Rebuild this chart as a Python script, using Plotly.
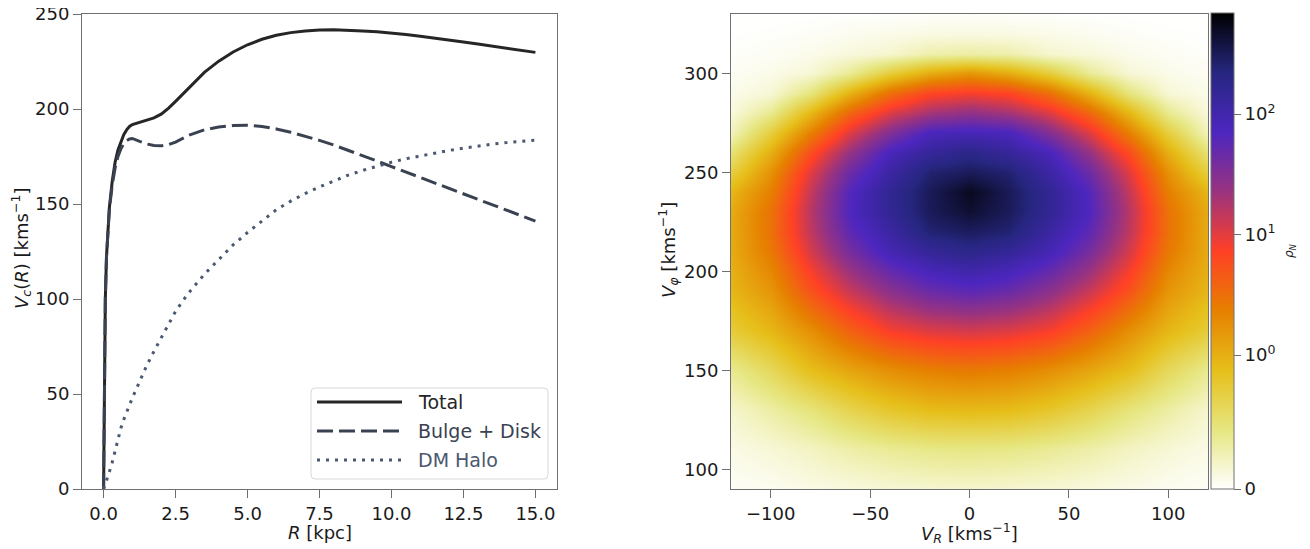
import numpy as np
import plotly.graph_objects as go

# ---------------- Left panel: rotation curve ----------------
R_kpc = [0, 0.03, 0.06, 0.1, 0.15, 0.2, 0.3, 0.4, 0.5, 0.6, 0.7, 0.8, 0.9, 1.0,
         1.25, 1.5, 1.75, 2.0, 2.25, 2.5, 2.75, 3.0,
         3.5, 4.0, 4.5, 5.0, 5.5, 6.0, 6.5, 7.0, 7.5, 8.0, 8.5, 9.0, 9.5, 10.0,
         10.5, 11.0, 11.5, 12.0, 12.5, 13.0, 13.5, 14.0, 14.5, 15.0]

v_total = [0, 70, 100, 122, 138, 148, 162, 172, 178.5, 183, 186.5, 189, 190.8, 191.8,
           193, 194, 195.3, 197.3, 200.3, 204, 207.8, 211.8,
           219.3, 225.2, 230, 233.8, 236.7, 238.8, 240.2, 241.1, 241.6, 241.7, 241.5, 241.1,
           240.6, 240, 239.2, 238.3, 237.4, 236.4, 235.3, 234.2, 233.1, 232, 230.9, 229.8]

v_bulge_disk = [0, 70, 100, 122, 137, 147, 160, 169, 175, 179, 181.8, 183.3, 184.2, 184.5,
                183.0, 181.6, 180.8, 180.6, 181.2, 182.6, 184.5, 186.4,
                189, 190.5, 191.3, 191.4, 190.8, 189.5, 187.8, 185.8, 183.5, 181, 178.3, 175.5,
                172.6, 169.7, 166.8, 163.9, 161, 158.1, 155.2, 152.3, 149.5, 146.7, 143.9, 141]

v_dm_halo = [0, 1.2, 2.5, 4, 6.5, 9, 14, 20, 27, 32, 36.5, 40.5, 44, 48,
             56.5, 65, 72.5, 79.5, 86.5, 93.5, 99, 104,
             113, 121, 128.5, 135, 140.8, 147, 151.5, 155.5, 159, 162.3, 165.2, 167.7,
             170, 172, 173.8, 175.4, 176.9, 178.2, 179.4, 180.5, 181.5, 182.3, 183, 183.6]

legend_labels = ["Total", "Bulge + Disk", "DM Halo"]

# ---------------- Right panel: velocity distribution ----------------
v_R = [-120, -100, -80, -60, -40, -20, 0, 20, 40, 60, 80, 100, 120]
v_phi = [90, 110, 130, 150, 170, 190, 210, 220, 230, 240, 250, 260, 270, 280, 290, 300, 310, 320, 330]

rho_N = [
    [0.028, 0.05, 0.085, 0.114, 0.142, 0.16, 0.171, 0.16, 0.142, 0.114, 0.085, 0.05, 0.028],   # 90
    [0.089, 0.142, 0.213, 0.302, 0.37, 0.416, 0.43, 0.416, 0.37, 0.302, 0.213, 0.142, 0.089],  # 110
    [0.171, 0.316, 0.469, 0.658, 0.811, 0.903, 0.924, 0.903, 0.811, 0.658, 0.469, 0.316, 0.171],  # 130
    [0.391, 0.608, 0.896, 1.22, 1.82, 2.35, 2.62, 2.35, 1.82, 1.22, 0.896, 0.608, 0.391],      # 150
    [0.75, 0.946, 1.80, 4.01, 7.86, 10.5, 11.7, 10.5, 7.86, 4.01, 1.80, 0.946, 0.75],          # 170
    [0.95, 1.60, 5.32, 13.6, 28.1, 46.7, 57.6, 46.7, 28.1, 13.6, 5.32, 1.60, 0.95],            # 190
    [1.08, 2.64, 11.7, 37.9, 88.4, 143, 185, 143, 88.4, 37.9, 11.7, 2.64, 1.08],               # 210
    [1.08, 3.03, 15.0, 56.1, 121, 249, 296, 249, 121, 56.1, 15.0, 3.03, 1.08],                 # 220
    [1.08, 2.97, 16.3, 69.8, 158, 310, 438, 310, 158, 69.8, 16.3, 2.97, 1.08],                 # 230
    [0.95, 2.41, 14.2, 65.5, 160, 318, 525, 318, 160, 65.5, 14.2, 2.41, 0.95],                 # 240
    [0.711, 1.71, 10.3, 44.7, 118, 254, 304, 254, 118, 44.7, 10.3, 1.71, 0.711],               # 250
    [0.498, 1.03, 5.98, 25.0, 81.4, 141, 195, 141, 81.4, 25.0, 5.98, 1.03, 0.498],             # 260
    [0.231, 0.736, 2.39, 10.8, 33.1, 77.8, 87.6, 77.8, 33.1, 10.8, 2.39, 0.736, 0.231],        # 270
    [0.124, 0.391, 0.949, 3.80, 10.9, 20.4, 26.4, 20.4, 10.9, 3.80, 0.949, 0.391, 0.124],      # 280
    [0.071, 0.142, 0.462, 0.981, 3.14, 6.62, 8.01, 6.62, 3.14, 0.981, 0.462, 0.142, 0.071],    # 290
    [0.036, 0.078, 0.142, 0.37, 0.736, 1.06, 1.56, 1.06, 0.736, 0.37, 0.142, 0.078, 0.036],    # 300
    [0.018, 0.036, 0.071, 0.124, 0.17, 0.29, 0.32, 0.29, 0.17, 0.124, 0.071, 0.036, 0.018],    # 310
    [0.007, 0.014, 0.028, 0.053, 0.078, 0.10, 0.107, 0.10, 0.078, 0.053, 0.028, 0.014, 0.007], # 320
    [0.0, 0.0, 0.004, 0.007, 0.01, 0.015, 0.02, 0.015, 0.01, 0.007, 0.004, 0.0, 0.0],          # 330
]
rho_max = 690.0
cbar_tick_values = [0, 1, 10, 100]
cbar_tick_labels = ["0", "10<sup>0</sup>", "10<sup>1</sup>", "10<sup>2</sup>"]

# symmetric-log colour scale (linthresh 1, linscale 1, base 10)
LIN = 1.0 / (1.0 - 0.1)


def symlog(v):
    v = np.asarray(v, dtype=float)
    return np.where(v <= 1.0, v * LIN, LIN + np.log10(np.maximum(v, 1.0)))


# CMRmap reversed
cmr_r = [
    [0.0, "rgb(255,255,255)"],
    [0.125, "rgb(230,230,128)"],
    [0.25, "rgb(230,191,26)"],
    [0.375, "rgb(230,128,0)"],
    [0.5, "rgb(255,64,38)"],
    [0.625, "rgb(153,51,128)"],
    [0.75, "rgb(77,38,191)"],
    [0.875, "rgb(38,38,128)"],
    [1.0, "rgb(0,0,0)"],
]

# page body has an 8px margin; figure sized to fit the 1310x549 window
OFF = 8
W, H = 1310 - OFF, 549 - OFF


def PX(x):
    return (x - OFF) / W


def PY(y):
    return 1 - (y - OFF) / H


FONT = "DejaVu Sans"
TXT = "#1a1a1a"
FRAME = "#707070"

c_total = "#262626"
c_bd = "#3a4252"
c_dm = "#4a5870"

fig = go.Figure()

fig.add_trace(go.Scatter(x=R_kpc, y=v_total, mode="lines", name=legend_labels[0],
                         line=dict(color=c_total, width=3), showlegend=False,
                         xaxis="x", yaxis="y", hoverinfo="skip"))
fig.add_trace(go.Scatter(x=R_kpc, y=v_bulge_disk, mode="lines", name=legend_labels[1],
                         line=dict(color=c_bd, width=3, dash="16px,6px"), showlegend=False,
                         xaxis="x", yaxis="y", hoverinfo="skip"))
fig.add_trace(go.Scatter(x=R_kpc, y=v_dm_halo, mode="lines", name=legend_labels[2],
                         line=dict(color=c_dm, width=3, dash="3px,6px"), showlegend=False,
                         xaxis="x", yaxis="y", hoverinfo="skip"))

zt = symlog(rho_N)
tmax = float(symlog([rho_max])[0])

fig.add_trace(go.Heatmap(
    x=v_R, y=v_phi, z=zt, zsmooth="best", colorscale=cmr_r, zmin=0, zmax=tmax,
    xaxis="x2", yaxis="y2", hoverinfo="skip",
    colorbar=dict(
        x=PX(1211), xanchor="left", y=PY(489), yanchor="bottom",
        len=(489 - 13) / H, lenmode="fraction", thickness=23, thicknessmode="pixels",
        outlinewidth=1, outlinecolor=FRAME, xpad=0, ypad=0,
        ticks="outside", ticklen=7, tickcolor=FRAME,
        tickvals=list(symlog(cbar_tick_values)), ticktext=cbar_tick_labels,
        tickfont=dict(family=FONT, size=18, color=TXT),
    ),
))

axis_common = dict(showgrid=False, zeroline=False, showline=True, mirror=True,
                   linecolor=FRAME, linewidth=1, ticks="outside", ticklen=8,
                   tickcolor=FRAME, tickwidth=1, automargin=False,
                   ticklabeloverflow="allow",
                   tickfont=dict(family=FONT, size=18, color=TXT))

fig.update_layout(
    width=W, height=H, autosize=False,
    margin=dict(l=0, r=0, t=0, b=0, autoexpand=False),
    paper_bgcolor="white", plot_bgcolor="white",
    showlegend=False,
    xaxis=dict(domain=[PX(82), PX(557)], range=[-0.75, 15.75], anchor="y",
               tickvals=[0, 2.5, 5, 7.5, 10, 12.5, 15], tickformat=".1f", **axis_common),
    yaxis=dict(domain=[PY(489), PY(14)], range=[0, 250], anchor="x",
               tickvals=[0, 50, 100, 150, 200, 250], **axis_common),
    xaxis2=dict(domain=[PX(731), PX(1208)], range=[-120, 120], anchor="y2",
                tickvals=[-100, -50, 0, 50, 100], **axis_common),
    yaxis2=dict(domain=[PY(489), PY(14)], range=[90, 330], anchor="x2",
                tickvals=[100, 150, 200, 250, 300], **axis_common),
)

# axis titles
ann = []
tfont = dict(family=FONT, size=18, color=TXT)
ann.append(dict(text="<i>R</i> [kpc]", x=PX(320), y=PY(532), xref="paper", yref="paper",
                showarrow=False, font=tfont, xanchor="center", yanchor="middle"))
ann.append(dict(text="<i>V</i><sub><i>c</i></sub>(<i>R</i>) [kms<sup>−1</sup>]", x=PX(21), y=PY(248),
                xref="paper", yref="paper", showarrow=False, font=tfont, textangle=-90,
                xanchor="center", yanchor="middle"))
ann.append(dict(text="<i>V</i><sub><i>R</i></sub> [kms<sup>−1</sup>]", x=PX(970), y=PY(533),
                xref="paper", yref="paper", showarrow=False, font=tfont,
                xanchor="center", yanchor="middle"))
ann.append(dict(text="<i>V</i><sub><i>φ</i></sub> [kms<sup>−1</sup>]", x=PX(668), y=PY(250),
                xref="paper", yref="paper", showarrow=False, font=tfont, textangle=-90,
                xanchor="center", yanchor="middle"))
ann.append(dict(text="<i>ρ</i><sub><i>N</i></sub>", x=PX(1290), y=PY(251),
                xref="paper", yref="paper", showarrow=False,
                font=dict(family=FONT, size=12, color=TXT), textangle=-90,
                xanchor="center", yanchor="middle"))

# manual legend (matching long line samples)
lg_x0, lg_x1, lg_y0, lg_y1, rr = 311, 548, 388, 479, 4
x0, x1 = PX(lg_x0), PX(lg_x1)
y0, y1 = PY(lg_y0), PY(lg_y1)
rx, ry = rr / W, rr / H
path = (f"M{x0+rx},{y0} L{x1-rx},{y0} Q{x1},{y0} {x1},{y0-ry} "
        f"L{x1},{y1+ry} Q{x1},{y1} {x1-rx},{y1} L{x0+rx},{y1} "
        f"Q{x0},{y1} {x0},{y1+ry} L{x0},{y0-ry} Q{x0},{y0} {x0+rx},{y0} Z")
shapes = [dict(type="path", path=path, xref="paper", yref="paper",
               line=dict(color="#d8d8d8", width=1), fillcolor="rgba(255,255,255,0.8)")]
rows = [(402, c_total, "solid", legend_labels[0], "#262626"),
        (431, c_bd, "16px,6px", legend_labels[1], "#3a4252"),
        (460, c_dm, "3px,6px", legend_labels[2], "#4a5870")]
for yy, col, dash, lab, tcol in rows:
    shapes.append(dict(type="line", xref="paper", yref="paper",
                       x0=PX(317), x1=PX(402), y0=PY(yy), y1=PY(yy),
                       line=dict(color=col, width=3, dash=dash)))
    ann.append(dict(text=lab, x=PX(416), y=PY(yy), xref="paper", yref="paper",
                    showarrow=False, xanchor="left", yanchor="middle",
                    font=dict(family=FONT, size=19, color=tcol)))

fig.update_layout(annotations=ann, shapes=shapes)

fig.write_html("out.html")
